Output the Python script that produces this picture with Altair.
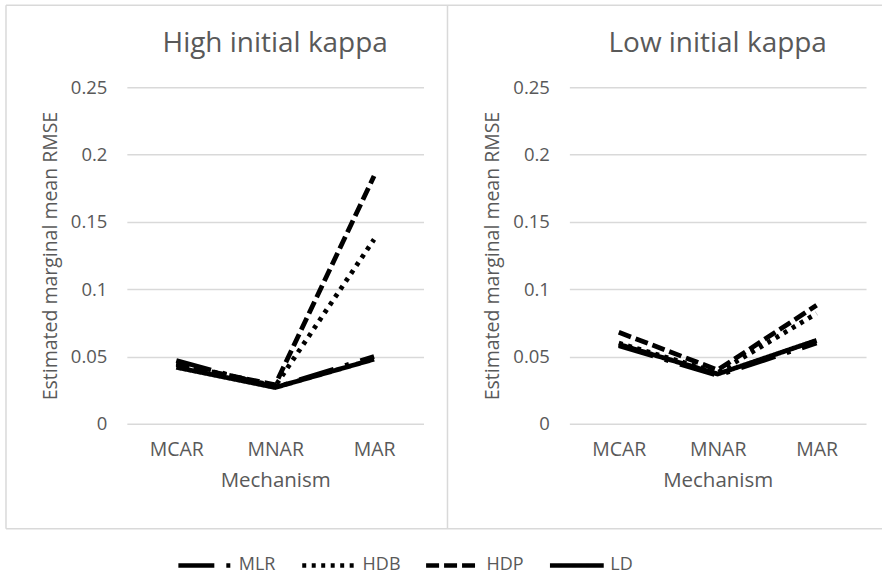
import altair as alt
import pandas as pd

categories = ["MCAR", "MNAR", "MAR"]
series = ["MLR", "HDB", "HDP", "LD"]
panel_titles = ["High initial kappa", "Low initial kappa"]

high_MLR = [0.047, 0.027, 0.050]
high_HDB = [0.045, 0.028, 0.137]
high_HDP = [0.044, 0.029, 0.184]
high_LD = [0.042, 0.027, 0.048]

low_MLR = [0.058, 0.036, 0.060]
low_HDB = [0.060, 0.038, 0.082]
low_HDP = [0.068, 0.040, 0.088]
low_LD = [0.059, 0.037, 0.062]

y_ticks = [0, 0.05, 0.1, 0.15, 0.2, 0.25]

def frame(vals):
    rows = []
    for s, v in zip(series, vals):
        for c, y in zip(categories, v):
            rows.append({"Mechanism": c, "Method": s, "RMSE": y})
    return pd.DataFrame(rows)

high_df = frame([high_MLR, high_HDB, high_HDP, high_LD])
low_df = frame([low_MLR, low_HDB, low_HDP, low_LD])

TXT = "#595959"
GRID = "#d9d9d9"
FONT = "Open Sans"

dash_scale = alt.Scale(
    domain=series,
    range=[[36, 12, 4, 12], [4, 5.5], [13, 5], [1, 0]],
)

W, H = 297, 337

def lines_of(df, show_legend):
    if show_legend:
        legend = alt.Legend(
            title=None,
            orient="none",
            legendX=49,
            legendY=449,
            direction="horizontal",
            symbolType="stroke",
            symbolSize=2900,
            symbolStrokeWidth=4.5,
            symbolStrokeColor="black",
            labelFontSize=18,
            labelColor=TXT,
            labelFont=FONT,
            labelOffset=4,
            columnPadding=16,
            gridAlign="all",
        )
    else:
        legend = None
    return (
        alt.Chart(df)
        .mark_line(color="black", strokeWidth=4.8, strokeJoin="round")
        .encode(
            x=alt.X(
                "Mechanism:N",
                sort=categories,
                scale=alt.Scale(type="point", padding=0.5),
                axis=alt.Axis(
                    title="Mechanism",
                    labelAngle=0,
                    domain=False,
                    ticks=False,
                    grid=False,
                    labelFontSize=19.5,
                    labelColor=TXT,
                    labelFont=FONT,
                    labelPadding=17,
                    titleFontSize=20.5,
                    titleFont=FONT,
                    titleColor=TXT,
                    titleFontWeight="normal",
                    titlePadding=11,
                ),
            ),
            y=alt.Y(
                "RMSE:Q",
                scale=alt.Scale(domain=[0, 0.25], nice=False),
                axis=alt.Axis(
                    title="Estimated marginal mean RMSE",
                    values=y_ticks,
                    format="~g",
                    domain=False,
                    ticks=False,
                    gridColor=GRID,
                    gridWidth=1.5,
                    labelFontSize=18.5,
                    labelColor=TXT,
                    labelFont=FONT,
                    labelPadding=20,
                    titleFontSize=19.5,
                    titleFont=FONT,
                    titleColor=TXT,
                    titleFontWeight="normal",
                    titlePadding=10,
                ),
            ),
            strokeDash=alt.StrokeDash("Method:N", scale=dash_scale, legend=legend),
            detail="Method:N",
        )
    )

def title_mark(text):
    return (
        alt.Chart(alt.Data(values=[{"t": text}]))
        .mark_text(fontSize=28, font=FONT, color=TXT, align="center", baseline="alphabetic")
        .encode(text="t:N", x=alt.value(W / 2), y=alt.value(-35))
    )

border_data = alt.Data(values=[{"k": 1}])
border_style = dict(color=GRID, strokeWidth=1.5)
left_edge = alt.Chart(border_data).mark_rule(**border_style).encode(
    x=alt.value(-121), y=alt.value(-82), y2=alt.value(442)
)
divider = alt.Chart(border_data).mark_rule(**border_style).encode(
    x=alt.value(321), y=alt.value(-82), y2=alt.value(442)
)
top_edge = alt.Chart(border_data).mark_rule(**border_style).encode(
    x=alt.value(-121), x2=alt.value(756), y=alt.value(-82)
)
bottom_edge = alt.Chart(border_data).mark_rule(**border_style).encode(
    x=alt.value(-121), x2=alt.value(756), y=alt.value(442)
)

left = alt.layer(
    left_edge, divider, top_edge, bottom_edge,
    lines_of(high_df, True), title_mark(panel_titles[0]),
).properties(width=W, height=H)

right = alt.layer(
    lines_of(low_df, False), title_mark(panel_titles[1]),
).properties(width=W, height=H)

chart = (
    alt.hconcat(left, right, spacing=146, bounds="flush")
    .resolve_scale(strokeDash="shared")
    .properties(
        padding={"left": 5, "top": 4, "right": 0, "bottom": 0},
        background="white",
    )
    .configure_view(stroke=None)
)

chart.save("out.html", embed_options={"renderer": "svg", "actions": False})
